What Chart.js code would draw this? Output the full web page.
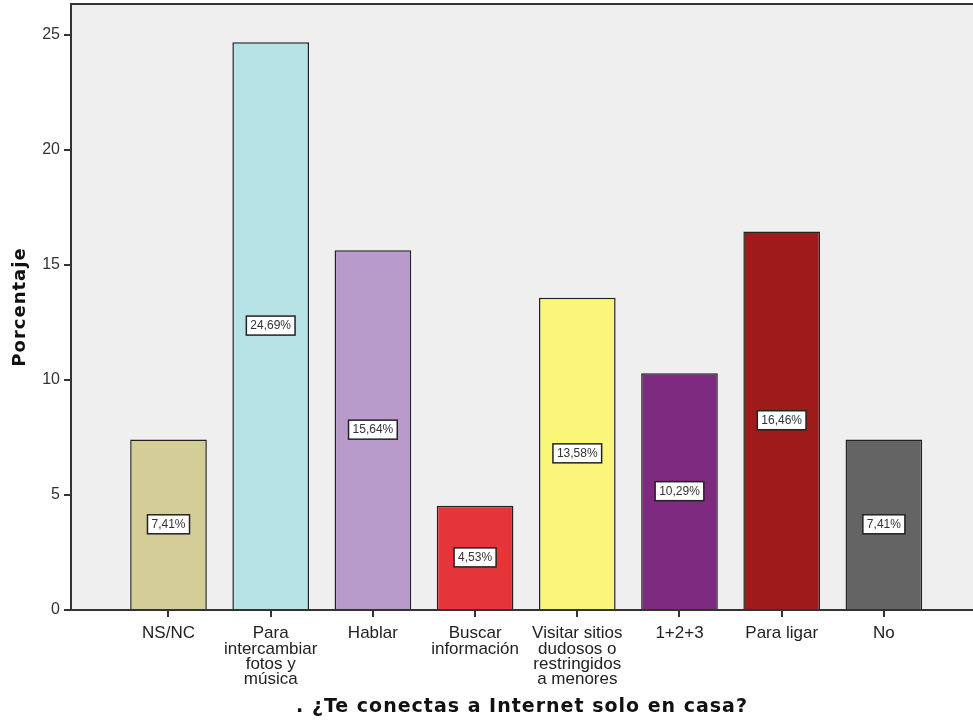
<!DOCTYPE html>
<html>
<head>
<meta charset="utf-8">
<script src="https://cdn.jsdelivr.net/npm/chart.js@4/dist/chart.umd.min.js"></script>
<style>
  html, body { margin: 0; padding: 0; background: #fff; }
  #wrap { width: 973px; height: 726px; }
</style>
</head>
<body>
<div id="wrap"><canvas id="c"></canvas></div>
<script>
// categories (multi-line labels) and percentages
const categories = [
  'NS/NC',
  ['Para', 'intercambiar', 'fotos y', 'música'],
  'Hablar',
  ['Buscar', 'información'],
  ['Visitar sitios', 'dudosos o', 'restringidos', 'a menores'],
  '1+2+3',
  'Para ligar',
  'No'
];
const percentages = [7.41, 24.69, 15.64, 4.53, 13.58, 10.29, 16.46, 7.41];
const valueLabels = ['7,41%', '24,69%', '15,64%', '4,53%', '13,58%', '10,29%', '16,46%', '7,41%'];
const barColors = ['#d4cd97', '#b7e3e6', '#b89bca', '#e63538', '#faf67a', '#7d2a80', '#9f1a1a', '#646464'];
const yTicks = [0, 5, 10, 15, 20, 25];

const xTitle = '. ¿Te conectas a Internet solo en casa?';
const yTitle = 'Porcentaje';

// plot background + top frame line
const frame = {
  id: 'frame',
  beforeDraw(chart) {
    const {ctx, chartArea: a} = chart;
    ctx.save();
    ctx.fillStyle = '#efefef';
    ctx.fillRect(a.left, a.top, a.right - a.left, a.bottom - a.top);
    ctx.strokeStyle = '#333';
    ctx.lineWidth = 2;
    ctx.beginPath();
    ctx.moveTo(a.left, a.top);
    ctx.lineTo(a.right, a.top);
    ctx.stroke();
    ctx.restore();
  }
};

// white boxed percentage in the middle of each bar
const boxLabels = {
  id: 'boxLabels',
  afterDatasetsDraw(chart) {
    const {ctx} = chart;
    const meta = chart.getDatasetMeta(0);
    ctx.save();
    ctx.font = '12px "Liberation Sans", Arial, sans-serif';
    ctx.textAlign = 'center';
    ctx.textBaseline = 'middle';
    meta.data.forEach((bar, i) => {
      const cy = (bar.y + bar.base) / 2;
      const t = valueLabels[i];
      const w = ctx.measureText(t).width + 8;
      const h = 19;
      ctx.fillStyle = '#fff';
      ctx.fillRect(bar.x - w / 2, cy - h / 2, w, h);
      ctx.strokeStyle = '#222';
      ctx.lineWidth = 1.5;
      ctx.strokeRect(bar.x - w / 2, cy - h / 2, w, h);
      ctx.fillStyle = '#333';
      ctx.fillText(t, bar.x, cy + 0.5);
    });
    ctx.restore();
  }
};

// axis titles, drawn by hand for spacing
const axisTitles = {
  id: 'axisTitles',
  afterDraw(chart) {
    const {ctx, chartArea: a} = chart;
    ctx.save();
    ctx.fillStyle = '#111';
    ctx.textAlign = 'center';
    ctx.textBaseline = 'middle';
    ctx.letterSpacing = '1px';
    ctx.font = 'bold 19px "DejaVu Sans", Verdana, sans-serif';
    ctx.fillText(xTitle, (a.left + a.right) / 2, 707);
    ctx.font = 'bold 18px "DejaVu Sans", Verdana, sans-serif';
    ctx.translate(20, (a.top + a.bottom) / 2);
    ctx.rotate(-Math.PI / 2);
    ctx.fillText(yTitle, 0, 0);
    ctx.restore();
  }
};

new Chart(document.getElementById('c'), {
  type: 'bar',
  data: {
    datasets: [{
      data: percentages.map((v, i) => ({x: i, y: v})),
      backgroundColor: barColors,
      borderColor: '#222',
      borderWidth: 1.5,
      barPercentage: 0.75,
      categoryPercentage: 1
    }]
  },
  options: {
    responsive: true,
    maintainAspectRatio: false,
    animation: false,
    layout: { padding: { top: 4, right: 0, left: 0, bottom: 0 } },
    plugins: { legend: { display: false }, tooltip: { enabled: false } },
    scales: {
      x: {
        type: 'linear',
        offset: false,
        min: -0.954,
        max: 7.872,
        afterFit(s) { s.height = 116; s.paddingLeft = 0; s.paddingRight = 0; },
        border: { color: '#333', width: 2 },
        grid: { offset: false, drawOnChartArea: false, drawTicks: true, tickLength: 7, color: '#333', lineWidth: 2 },
        ticks: {
          stepSize: 1,
          includeBounds: false,
          autoSkip: false,
          maxRotation: 0,
          padding: 9,
          color: '#222',
          font: { family: '"Liberation Sans", Arial, sans-serif', size: 17, lineHeight: 0.9 },
          callback: v => (Number.isInteger(v) && categories[v] !== undefined) ? categories[v] : ''
        }
      },
      y: {
        min: 0,
        max: 26.35,
        afterFit(s) { s.width = 71; s.paddingTop = 0; s.paddingBottom = 0; },
        border: { color: '#333', width: 2 },
        grid: { drawOnChartArea: false, drawTicks: true, tickLength: 7, color: '#333', lineWidth: 2 },
        afterBuildTicks(s) { s.ticks = yTicks.map(v => ({value: v})); },
        ticks: {
          padding: 4,
          color: '#333',
          font: { family: '"Liberation Sans", Arial, sans-serif', size: 16 }
        }
      }
    }
  },
  plugins: [frame, boxLabels, axisTitles]
});
</script>
</body>
</html>
